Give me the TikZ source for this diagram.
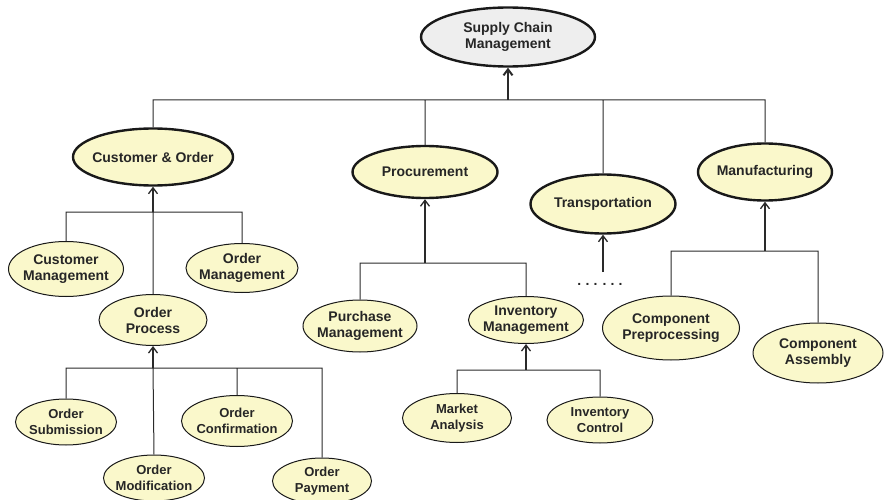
\documentclass[tikz,border=0pt]{standalone}
\usepackage{fontspec}
\setmainfont{Liberation Sans}
\usetikzlibrary{arrows.meta}
\usetikzlibrary{shapes.geometric}
\definecolor{nodefill}{HTML}{FAF8CB}
\definecolor{rootfill}{HTML}{EEEEEE}
\definecolor{linegray}{HTML}{2A2A2A}

\begin{document}
\begin{tikzpicture}[x=1pt, y=-1pt]
	\tikzstyle{rootnode}=[ellipse, draw=black!90, line width=2.4pt, fill=rootfill,
	                        inner sep=-8pt, align=center, text=black!85,
	                        font=\fontsize{14}{16}\selectfont\bfseries];
	\tikzstyle{mainnode}=[rootnode, fill=nodefill];
	\tikzstyle{subnode}=[mainnode, line width=1pt];
	\tikzstyle{leafnode}=[subnode, font=\fontsize{13}{16.5}\selectfont\bfseries];
	\tikzstyle{link}=[draw=linegray, line width=1pt];
	\tikzstyle{up}=[link, line width=1.3pt, -{Straight Barb[length=6pt, width=9pt]}];
	\useasboundingbox (0,0) rectangle (884,500);

	\node[rootnode, minimum width=174pt, minimum height=59pt] (scm) at (508,37) {Supply Chain\\Management};

	\node[mainnode, minimum width=160pt, minimum height=57pt] (cust) at (153,157) {Customer \& Order};
	\node[mainnode, minimum width=145pt, minimum height=52pt] (proc) at (425,172) {Procurement};
	\node[mainnode, minimum width=145pt, minimum height=59pt] (trans) at (603,204) {Transportation};
	\node[mainnode, minimum width=134pt, minimum height=57pt] (manu) at (765,172) {Manufacturing};

	\node[subnode, minimum width=115pt, minimum height=55pt] (cm) at (66,269) {Customer\\Management};
	\node[subnode, minimum width=112pt, minimum height=49pt] (om) at (242,268) {Order\\Management};
	\node[subnode, minimum width=108pt, minimum height=51pt] (op) at (153,320) {Order\\Process};

	\node[leafnode, minimum width=101pt, minimum height=46pt] (osub) at (66,422) {Order\\Submission};
	\node[leafnode, minimum width=111pt, minimum height=51pt] (oconf) at (237,421) {Order\\Confirmation};
	\node[leafnode, minimum width=101pt, minimum height=46pt] (omod) at (154,478) {Order\\Modification};
	\node[leafnode, minimum width=99pt, minimum height=46pt] (opay) at (322,481) {Order\\Payment};

	\node[subnode, minimum width=114pt, minimum height=52pt] (pm) at (360,326) {Purchase\\Management};
	\node[subnode, minimum width=115pt, minimum height=47pt] (im) at (526,320) {Inventory\\Management};
	\node[leafnode, minimum width=109pt, minimum height=49pt] (ma) at (457,418) {Market\\Analysis};
	\node[leafnode, minimum width=106pt, minimum height=46pt] (ic) at (600,420) {Inventory\\Control};

	\node[subnode, minimum width=137pt, minimum height=64pt] (cpre) at (671,328) {Component\\Preprocessing};
	\node[subnode, minimum width=130pt, minimum height=60pt] (cass) at (818,353) {Component\\Assembly};

	\node[font=\fontsize{14}{16}\selectfont\bfseries, text=black!85] (dots) at (600,284)
	     {.\hspace{4.2pt}.\hspace{4.2pt}.\hspace{5pt}.\hspace{4.2pt}.\hspace{4.2pt}.};

	\coordinate (b0) at (508,100);
	\coordinate (b1) at (153,212);
	\coordinate (b2) at (153,368);
	\coordinate (b3) at (425,263);
	\coordinate (b4) at (526,370);
	\coordinate (b5) at (765,251);
	\coordinate (t0) at (603,272);

	\draw[link]
	(cust.north) |- (b0)
	(proc.north) |- (b0)
	(trans.north) |- (b0)
	(manu.north) |- (b0)
	(cm.north) |- (b1)
	(om.north) |- (b1)
	(op.north) -- (b1)
	(osub.north) |- (b2)
	(oconf.north) |- (b2)
	(opay.north) |- (b2)
	(omod.north) -- (b2)
	(pm.north) |- (b3)
	(im.north) |- (b3)
	(ma.north) |- (b4)
	(ic.north) |- (b4)
	(cpre.north) |- (b5)
	(cass.north) |- (b5)
	;
	\draw[up, line width=2pt] (b0) -- (scm.south);
	\foreach \b/\p in {b1/cust, b2/op, b3/proc, b4/im, b5/manu, t0/trans}
	{\draw[up] (\b) -- (\p.south);}
\end{tikzpicture}
\end{document}
